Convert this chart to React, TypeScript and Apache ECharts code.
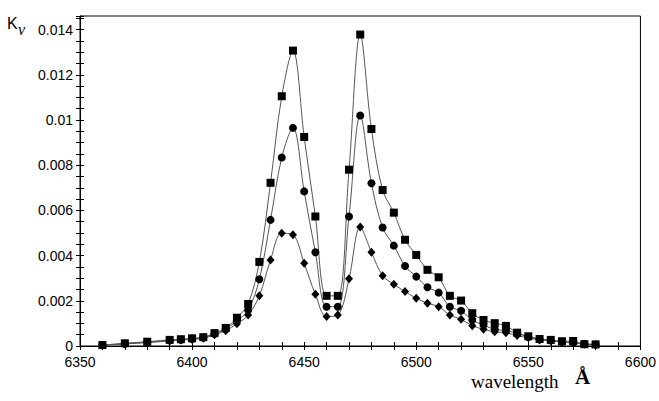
import React, { useEffect, useRef } from 'react';
import * as echarts from 'echarts';

const wavelengths = [
  6360, 6370, 6380, 6390, 6395, 6400, 6405, 6410, 6415, 6420, 6425, 6430, 6435, 6440,
  6445, 6450, 6455, 6460, 6465, 6470, 6475, 6480, 6485, 6490, 6495, 6500, 6505, 6510,
  6515, 6520, 6525, 6530, 6535, 6540, 6545, 6550, 6555, 6560, 6565, 6570, 6575, 6580,
];

const kSquares = [
  0.00004, 0.00012, 0.00019, 0.00027, 0.0003, 0.00034, 0.00039, 0.00057, 0.0008, 0.00125,
  0.00186, 0.00372, 0.00722, 0.01105, 0.01307, 0.00925, 0.00573, 0.00222, 0.00222, 0.0078,
  0.01378, 0.0096, 0.0069, 0.0059, 0.0047, 0.00403, 0.00337, 0.00304, 0.00222, 0.00201,
  0.00145, 0.00115, 0.00101, 0.00089, 0.00059, 0.00043, 0.00031, 0.00027, 0.00021, 0.00022,
  0.00008, 0.00007,
];

const kCircles = [
  0.00004, 0.0001, 0.00017, 0.00025, 0.00028, 0.00032, 0.00037, 0.00054, 0.00075, 0.00112,
  0.00158, 0.00295, 0.00558, 0.00834, 0.00965, 0.00684, 0.00415, 0.00174, 0.00174, 0.00573,
  0.0102, 0.0072, 0.00524, 0.00444, 0.00354, 0.00307, 0.0026, 0.00236, 0.00174, 0.00156,
  0.00115, 0.00093, 0.00074, 0.00068, 0.00056, 0.0004, 0.0003, 0.00025, 0.00019, 0.00015,
  0.00009, 0.00007,
];

const kDiamonds = [
  0.00003, 0.00009, 0.00015, 0.00022, 0.00026, 0.00029, 0.00034, 0.0005, 0.00068, 0.00098,
  0.00137, 0.00222, 0.00381, 0.00499, 0.00492, 0.00366, 0.00229, 0.0013, 0.00137, 0.00297,
  0.00526, 0.00415, 0.00311, 0.00273, 0.00241, 0.00211, 0.00189, 0.00174, 0.00137, 0.00118,
  0.0009, 0.00074, 0.00063, 0.00059, 0.00046, 0.00036, 0.00027, 0.00023, 0.00017, 0.00013,
  0.00008, 0.00006,
];

const xMajorStep = 50;
const yMajorStep = 0.002;

const tickFont = "'Liberation Sans', Arial, sans-serif";

export default function App() {
  const ref = useRef<HTMLDivElement>(null);

  useEffect(() => {
    const chart = echarts.init(ref.current!, null, { renderer: 'svg' });

    const isMult = (v: number, step: number) => Math.abs(v / step - Math.round(v / step)) < 1e-6;

    const xBase = {
      type: 'value' as const,
      min: 6350,
      max: 6600,
      interval: 10,
      position: 'bottom' as const,
      splitLine: { show: false },
    };
    const yBase = {
      type: 'value' as const,
      min: 0,
      max: 0.0146,
      interval: 0.0005,
      position: 'left' as const,
      splitLine: { show: false },
    };

    const mkSeries = (data: number[], symbol: string, size: number | number[]) => ({
      type: 'line' as const,
      data: wavelengths.map((w, i) => [w, data[i]]),
      symbol,
      symbolSize: size,
      showAllSymbol: true,
      smooth: 0.35,
      itemStyle: { color: '#000' },
      lineStyle: { color: '#555', width: 1 },
      emphasis: { disabled: true },
      xAxisIndex: 0,
      yAxisIndex: 0,
    });

    chart.setOption({
      animation: false,
      backgroundColor: '#fff',
      grid: {
        left: 80,
        right: 13,
        top: 16,
        bottom: 55,
        show: true,
        borderColor: '#000',
        borderWidth: 1,
      },
      xAxis: [
        {
          ...xBase,
          axisLine: { show: true, lineStyle: { color: '#000', width: 1 } },
          axisTick: { show: true, length: 4, lineStyle: { color: '#000' } },
          axisLabel: {
            margin: 9,
            color: '#000',
            fontSize: 14,
            fontFamily: tickFont,
            formatter: (v: number) => (isMult(v, xMajorStep) ? String(v) : ''),
            showMinLabel: true,
            showMaxLabel: true,
            hideOverlap: false,
            interval: 0,
          },
        },
        {
          ...xBase,
          axisLine: { show: false },
          axisTick: { show: true, inside: true, length: 4, lineStyle: { color: '#000' } },
          axisLabel: { show: false },
        },
      ],
      yAxis: [
        {
          ...yBase,
          axisLine: { show: true, lineStyle: { color: '#000', width: 1 } },
          axisTick: { show: true, length: 4, lineStyle: { color: '#000' } },
          axisLabel: {
            margin: 7,
            color: '#000',
            fontSize: 14,
            fontFamily: tickFont,
            interval: 0,
            formatter: (v: number) =>
              isMult(v, yMajorStep) ? String(parseFloat(v.toFixed(4))) : '',
          },
        },
        {
          ...yBase,
          axisLine: { show: false },
          axisTick: { show: true, inside: true, length: 4, lineStyle: { color: '#000' } },
          axisLabel: { show: false },
        },
      ],
      series: [
        mkSeries(kSquares, 'rect', 8),
        mkSeries(kCircles, 'circle', 8),
        mkSeries(kDiamonds, 'diamond', [8, 9]),
      ],
      graphic: [
        {
          type: 'text',
          left: 7,
          top: 15,
          style: { text: 'K', fontSize: 16, fontFamily: "'Liberation Sans', Arial, sans-serif", fill: '#000' },
        },
        {
          type: 'text',
          left: 18,
          top: 21,
          style: {
            text: 'ν',
            fontSize: 16,
            fontStyle: 'italic',
            fontFamily: "'Liberation Serif', 'Times New Roman', serif",
            fill: '#000',
          },
        },
        {
          type: 'text',
          left: 471,
          top: 372,
          style: {
            text: 'wavelength',
            fontSize: 19,
            fontFamily: "'Liberation Serif', 'Times New Roman', serif",
            fill: '#000',
          },
        },
        {
          type: 'text',
          left: 575,
          top: 366,
          style: {
            text: 'Å',
            fontSize: 21,
            fontWeight: 'bold',
            fontFamily: "'Liberation Serif', 'Times New Roman', serif",
            fill: '#000',
          },
        },
      ],
    });

    return () => chart.dispose();
  }, []);

  return (
    <div
      ref={ref}
      style={{ width: 659, height: 401, position: 'absolute', left: 0, top: 0 }}
    />
  );
}
